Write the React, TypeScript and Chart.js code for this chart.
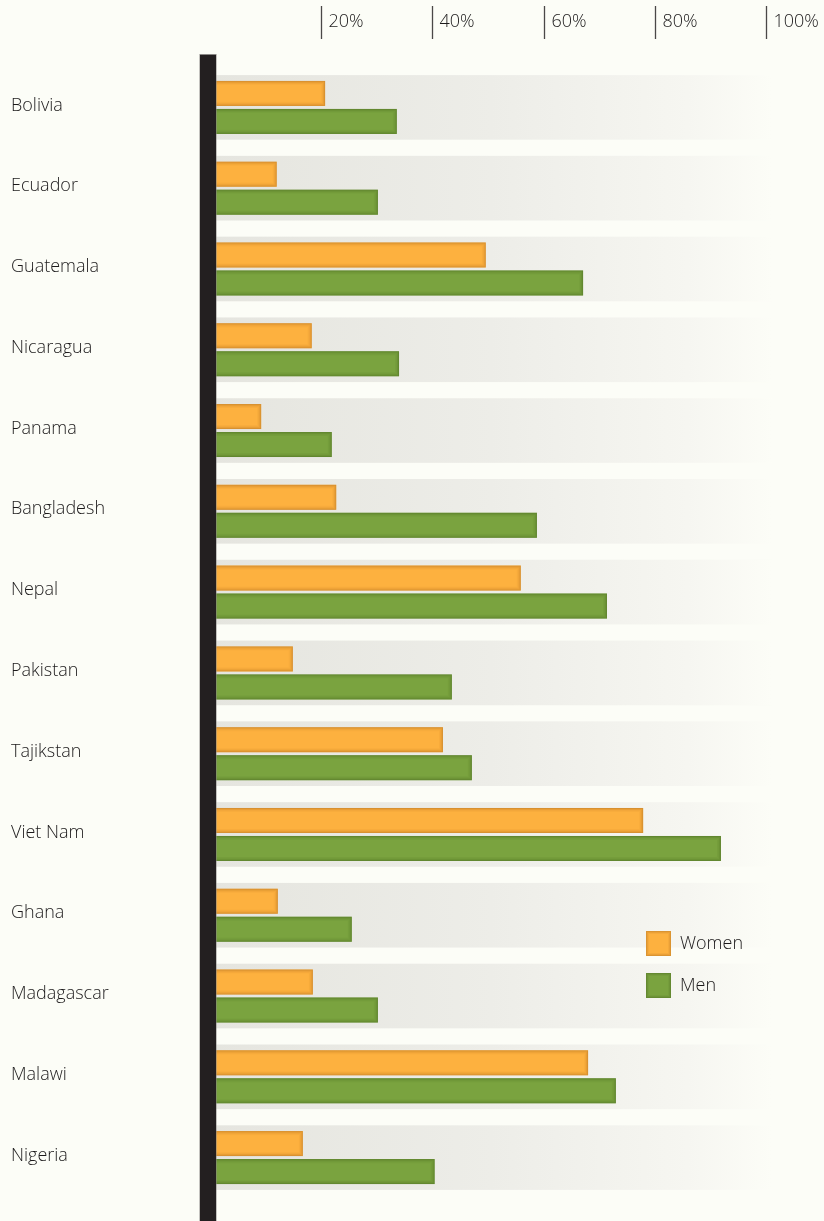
import React, { useEffect, useRef } from "react";
import { Chart, registerables } from "chart.js";
Chart.register(...registerables);

const countries = [
  "Bolivia", "Ecuador", "Guatemala", "Nicaragua", "Panama", "Bangladesh", "Nepal",
  "Pakistan", "Tajikstan", "Viet Nam", "Ghana", "Madagascar", "Malawi", "Nigeria",
];
const women = [20.7, 12.0, 49.6, 18.3, 9.2, 22.7, 55.9, 14.9, 41.9, 77.9, 12.2, 18.5, 68.0, 16.7];
const men = [33.6, 30.2, 67.1, 34.0, 21.9, 58.8, 71.4, 43.5, 47.1, 91.9, 25.5, 30.2, 73.0, 40.4];
const tickValues = [20, 40, 60, 80, 100];
const tickLabels = ["20%", "40%", "60%", "80%", "100%"];
const seriesNames = ["Women", "Men"];

const BG = "#fcfdf7";
const FILLS = ["#fdb13f", "#7aa33f"];
const EDGES = ["#c07c26", "#527526"];
const FONT = "'Open Sans', 'Noto Sans', sans-serif";
const TEXT = "#1c1a1b";

export default function App() {
  const ref = useRef<HTMLCanvasElement | null>(null);
  useEffect(() => {
    if (!ref.current) return;
    const decor = {
      id: "decor",
      beforeDatasetsDraw(chart: any) {
        const { ctx, chartArea, scales } = chart;
        const y = scales.y;
        const step = y.getPixelForValue(1) - y.getPixelForValue(0);
        const h = step * 0.8;
        const right = chartArea.right + 6;
        const grad = ctx.createLinearGradient(chartArea.left, 0, right, 0);
        grad.addColorStop(0, "#e5e5df");
        grad.addColorStop(0.5, "#ededE8");
        grad.addColorStop(0.85, "#f6f6f1");
        grad.addColorStop(1, BG);
        ctx.save();
        ctx.fillStyle = grad;
        countries.forEach((_, i) => {
          const c = y.getPixelForValue(i);
          ctx.fillRect(chartArea.left, c - h / 2, right - chartArea.left, h);
        });
        ctx.restore();
      },
      afterDatasetsDraw(chart: any) {
        const { ctx, scales } = chart;
        const x = scales.x;
        // inner shading of bars
        ctx.save();
        [0, 1].forEach((di) => {
          const meta = chart.getDatasetMeta(di);
          meta.data.forEach((bar: any) => {
            const left = Math.min(bar.base, bar.x);
            const w = Math.abs(bar.x - bar.base);
            const top = bar.y - bar.height / 2;
            const hh = bar.height;
            const alphas = [0.6, 0.35, 0.18, 0.08];
            alphas.forEach((a, k) => {
              ctx.globalAlpha = a;
              ctx.strokeStyle = EDGES[di];
              ctx.lineWidth = 1;
              ctx.strokeRect(left + k + 0.5, top + k + 0.5, w - 2 * k - 1, hh - 2 * k - 1);
            });
          });
        });
        ctx.restore();
        // black axis bar
        const x0 = x.getPixelForValue(0);
        ctx.save();
        ctx.fillStyle = "#8a8886";
        ctx.fillRect(x0 - 10.5, 54, 17, chart.height - 54);
        ctx.fillStyle = "#231f20";
        ctx.fillRect(x0 - 10, 55, 16, chart.height - 55);
        // top ticks
        ctx.strokeStyle = "#4a4848";
        ctx.lineWidth = 1.3;
        ctx.fillStyle = TEXT;
        ctx.font = `300 18px ${FONT}`;
        ctx.textBaseline = "middle";
        ctx.textAlign = "left";
        tickValues.forEach((v, i) => {
          const px = Math.round(x.getPixelForValue(v)) + 0.5;
          ctx.beginPath();
          ctx.moveTo(px, 6);
          ctx.lineTo(px, 39);
          ctx.stroke();
          ctx.fillText(tickLabels[i], px + 7, 22);
        });
        // legend
        const lx = 646;
        const ly = [931, 973];
        ctx.font = `300 18px ${FONT}`;
        seriesNames.forEach((name, i) => {
          ctx.fillStyle = FILLS[i];
          ctx.fillRect(lx, ly[i], 25, 25);
          [0.55, 0.3, 0.12].forEach((a, k) => {
            ctx.globalAlpha = a;
            ctx.strokeStyle = EDGES[i];
            ctx.lineWidth = 1;
            ctx.strokeRect(lx + k + 0.5, ly[i] + k + 0.5, 25 - 2 * k - 1, 25 - 2 * k - 1);
          });
          ctx.globalAlpha = 1;
          ctx.fillStyle = TEXT;
          ctx.fillText(name, lx + 34, ly[i] + 12.5);
        });
        ctx.restore();
      },
    };

    const chart = new Chart(ref.current, {
      type: "bar",
      data: {
        labels: countries,
        datasets: [
          {
            label: seriesNames[0],
            data: women,
            backgroundColor: FILLS[0],
            borderWidth: 0,
            categoryPercentage: 0.693,
            barPercentage: 0.893,
          },
          {
            label: seriesNames[1],
            data: men,
            backgroundColor: FILLS[1],
            borderWidth: 0,
            categoryPercentage: 0.693,
            barPercentage: 0.893,
          },
        ],
      },
      options: {
        indexAxis: "y",
        animation: false,
        responsive: false,
        maintainAspectRatio: false,
        layout: { padding: { left: 11, right: 58, top: 67, bottom: 23 } },
        plugins: { legend: { display: false }, tooltip: { enabled: false } },
        scales: {
          x: {
            display: false,
            min: 0,
            max: 100,
          },
          y: {
            grid: { display: false, drawTicks: false },
            border: { display: false },
            afterFit: (scale: any) => {
              scale.width = 199;
            },
            ticks: {
              crossAlign: "far",
              padding: 0,
              labelOffset: -2,
              color: TEXT,
              font: { family: FONT, size: 18, weight: "300" },
            },
          },
        },
      },
      plugins: [decor],
    });
    return () => chart.destroy();
  }, []);

  return (
    <div style={{ position: "absolute", left: 0, top: 0, width: 824, height: 1221, background: BG }}>
      <canvas ref={ref} width={824} height={1221} style={{ display: "block" }} />
    </div>
  );
}
